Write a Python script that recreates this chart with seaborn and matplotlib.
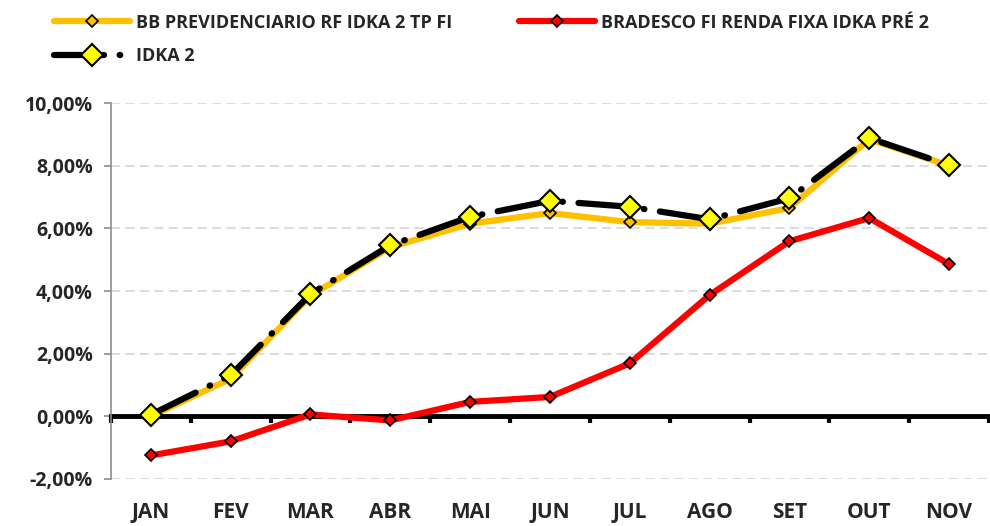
import matplotlib.pyplot as plt
import matplotlib.ticker as mticker
import seaborn as sns
import pandas as pd

# Monthly accumulated returns (%)
months = ['JAN', 'FEV', 'MAR', 'ABR', 'MAI', 'JUN', 'JUL', 'AGO', 'SET', 'OUT', 'NOV']
bb_prev = [0.00, 1.20, 3.85, 5.40, 6.15, 6.49, 6.20, 6.15, 6.65, 8.85, 8.00]
bradesco = [-1.25, -0.80, 0.06, -0.13, 0.46, 0.62, 1.69, 3.87, 5.59, 6.33, 4.86]
idka2 = [0.05, 1.31, 3.90, 5.46, 6.37, 6.88, 6.69, 6.29, 6.96, 8.88, 8.02]

LABEL_BB = 'BB PREVIDENCIARIO RF IDKA 2 TP FI'
LABEL_BRAD = 'BRADESCO FI RENDA FIXA IDKA PRÉ 2'
LABEL_IDKA = 'IDKA 2'

df = pd.DataFrame({'mes': months, 'bb': bb_prev, 'brad': bradesco, 'idka': idka2})

sns.set_style('white')
plt.rcParams['font.family'] = ['Open Sans', 'DejaVu Sans']
plt.rcParams['font.weight'] = 'bold'

fig, ax = plt.subplots(figsize=(9.9, 5.26), dpi=100)
fig.subplots_adjust(left=0.112, right=0.999, bottom=0.0894, top=0.804)

sns.lineplot(data=df, x='mes', y='bb', sort=False, ax=ax, color='#FFC000', lw=4.5,
             marker='D', markersize=6, markerfacecolor='#FFC000', markeredgecolor='black',
             markeredgewidth=1.2, label=LABEL_BB, zorder=3)
sns.lineplot(data=df, x='mes', y='idka', sort=False, ax=ax, color='black', lw=4.5,
             linestyle=(0, (8, 2.5, 0.1, 2.5)), dash_capstyle='round',
             marker='D', markersize=11, markerfacecolor='#FFFF00', markeredgecolor='black',
             markeredgewidth=1.5, label=LABEL_IDKA, zorder=4)
sns.lineplot(data=df, x='mes', y='brad', sort=False, ax=ax, color='#FF0000', lw=4.5,
             marker='D', markersize=6, markerfacecolor='#FF0000', markeredgecolor='black',
             markeredgewidth=1.2, label=LABEL_BRAD, zorder=5)

ax.set_xlim(-0.5, len(months) - 0.5)
ax.set_ylim(-2, 10)
ax.yaxis.set_major_locator(mticker.MultipleLocator(2))
ax.yaxis.set_major_formatter(mticker.FuncFormatter(lambda v, _: f'{v:.2f}%'.replace('.', ',')))

# dashed grid, skipping the zero line (it is the x axis)
for v in [-2, 2, 4, 6, 8, 10]:
    ax.axhline(v, color='#d9d9d9', lw=1.3, ls=(0, (5, 3)), zorder=0)

for s in ['top', 'right']:
    ax.spines[s].set_visible(False)
ax.spines['left'].set_color('#8c8c8c')
ax.spines['left'].set_linewidth(1.2)
ax.spines['bottom'].set_position(('data', 0))
ax.spines['bottom'].set_color('black')
ax.spines['bottom'].set_linewidth(3.5)
ax.spines['bottom'].set_zorder(2)

ax.set_xticks(range(len(months)))
ax.set_xticklabels(months)
ax.xaxis.set_minor_locator(mticker.FixedLocator([i - 0.5 for i in range(len(months) + 1)]))
ax.tick_params(axis='x', which='major', bottom=False, length=0, pad=62, labelsize=15)
ax.tick_params(axis='x', which='minor', bottom=True, length=5, width=3, direction='out', color='black')
ax.tick_params(axis='y', which='major', length=5, width=1.2, color='#8c8c8c', labelsize=14,
               left=True, pad=8)
for lbl in ax.get_xticklabels() + ax.get_yticklabels():
    lbl.set_fontweight('bold')

ax.set_xlabel('')
ax.set_ylabel('')

handles, labels = ax.get_legend_handles_labels()
ax.get_legend().remove()
fig.legend(handles, labels, loc='upper left', bbox_to_anchor=(0.038, 1.005), ncol=2,
           frameon=False, handlelength=4.2, handletextpad=0.35, columnspacing=3.7,
           labelspacing=0.85, prop={'weight': 'bold', 'size': 13})

fig.savefig('out.png', dpi=100)
